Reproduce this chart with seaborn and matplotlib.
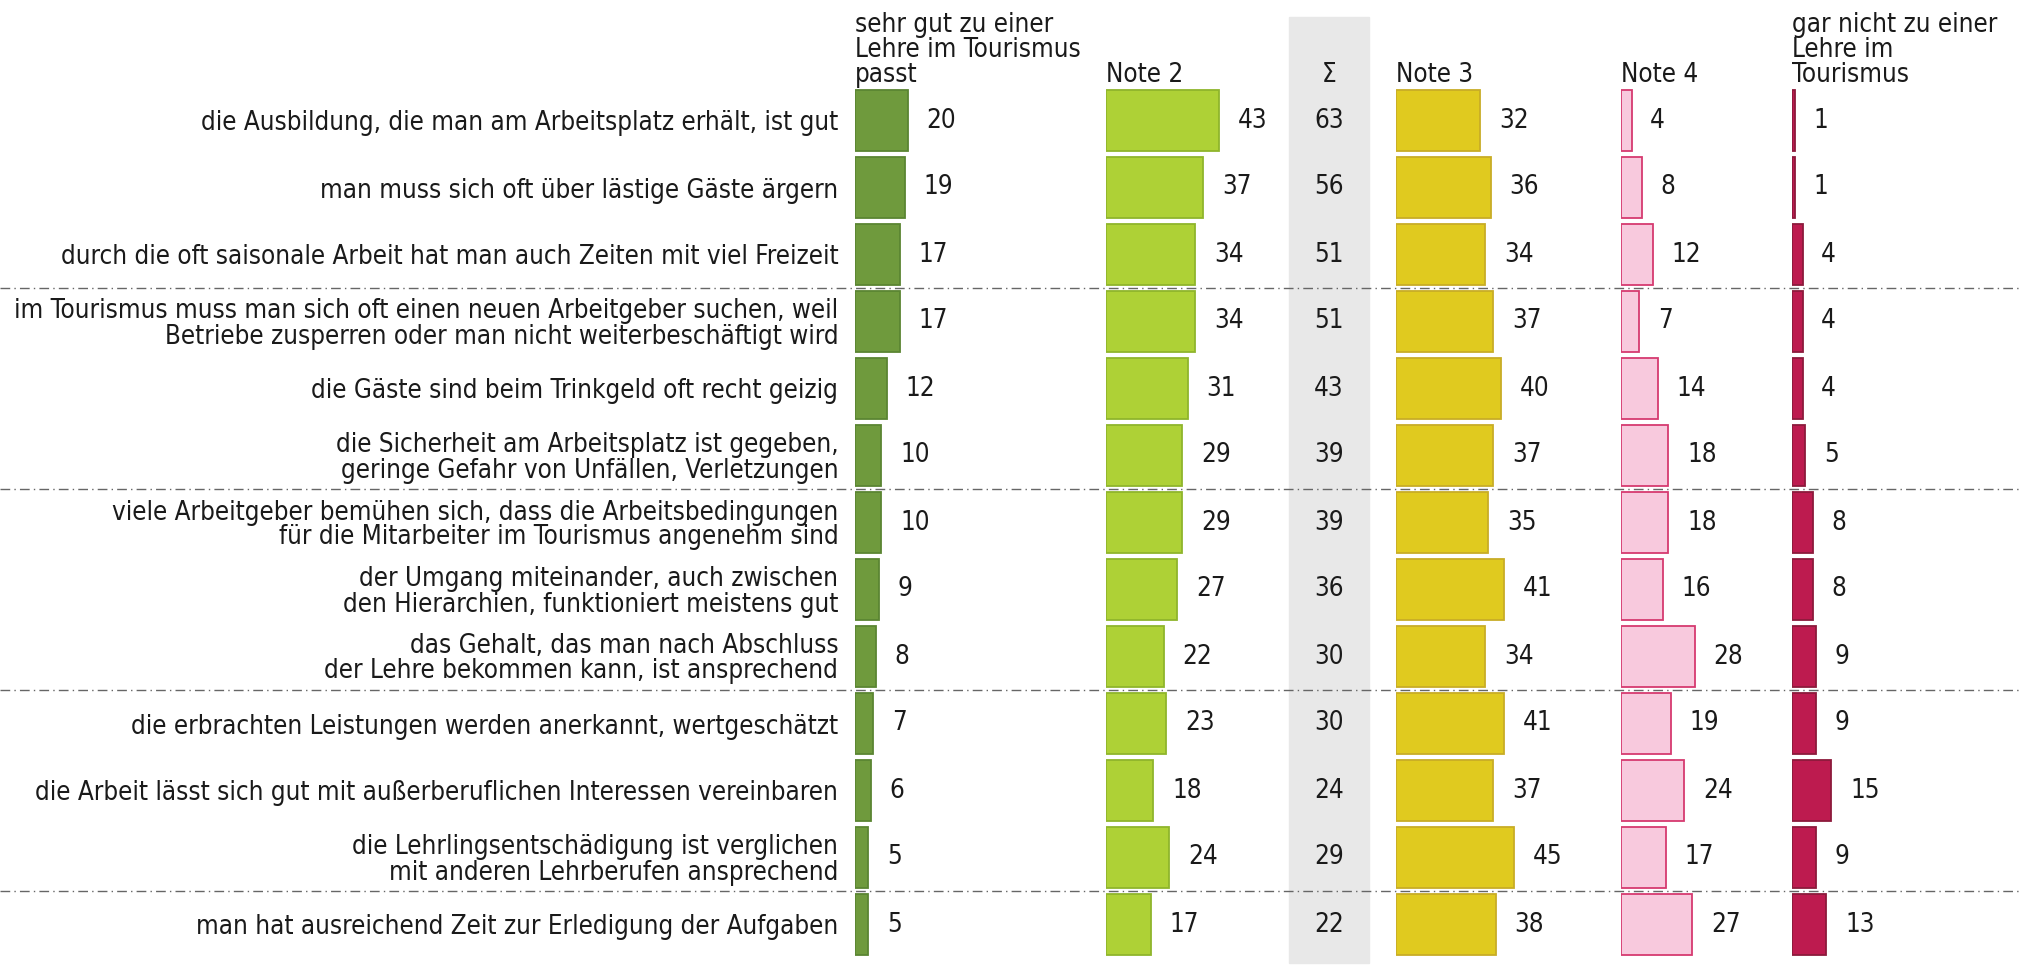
import matplotlib.pyplot as plt
from matplotlib import font_manager as fm
from matplotlib.patches import Rectangle
import seaborn as sns
import pandas as pd

statements = [
    "die Ausbildung, die man am Arbeitsplatz erhält, ist gut",
    "man muss sich oft über lästige Gäste ärgern",
    "durch die oft saisonale Arbeit hat man auch Zeiten mit viel Freizeit",
    "im Tourismus muss man sich oft einen neuen Arbeitgeber suchen, weil\nBetriebe zusperren oder man nicht weiterbeschäftigt wird",
    "die Gäste sind beim Trinkgeld oft recht geizig",
    "die Sicherheit am Arbeitsplatz ist gegeben,\ngeringe Gefahr von Unfällen, Verletzungen",
    "viele Arbeitgeber bemühen sich, dass die Arbeitsbedingungen\nfür die Mitarbeiter im Tourismus angenehm sind",
    "der Umgang miteinander, auch zwischen\nden Hierarchien, funktioniert meistens gut",
    "das Gehalt, das man nach Abschluss\nder Lehre bekommen kann, ist ansprechend",
    "die erbrachten Leistungen werden anerkannt, wertgeschätzt",
    "die Arbeit lässt sich gut mit außerberuflichen Interessen vereinbaren",
    "die Lehrlingsentschädigung ist verglichen\nmit anderen Lehrberufen ansprechend",
    "man hat ausreichend Zeit zur Erledigung der Aufgaben",
]
note1 = [20, 19, 17, 17, 12, 10, 10, 9, 8, 7, 6, 5, 5]
note2 = [43, 37, 34, 34, 31, 29, 29, 27, 22, 23, 18, 24, 17]
top2 = [63, 56, 51, 51, 43, 39, 39, 36, 30, 30, 24, 29, 22]
note3 = [32, 36, 34, 37, 40, 37, 35, 41, 34, 41, 37, 45, 38]
note4 = [4, 8, 12, 7, 14, 18, 18, 16, 28, 19, 24, 17, 27]
note5 = [1, 1, 4, 4, 4, 5, 8, 8, 9, 9, 15, 9, 13]

headers = ["sehr gut zu einer\nLehre im Tourismus\npasst", "Note 2",
           "Note 3", "Note 4", "gar nicht zu einer\nLehre im\nTourismus"]
separators = [2.5, 5.5, 8.5, 11.5]

sns.set_theme(style="white")

# a narrow face is closest to the original; use what is installed
has_cond = any(f.name == "DejaVu Sans" and "Condensed" in f.fname
               for f in fm.fontManager.ttflist)
if has_cond:
    plt.rcParams['font.family'] = ['DejaVu Sans']
    plt.rcParams['font.stretch'] = 'condensed'
    FS = 18.6
else:
    plt.rcParams['font.family'] = ['Liberation Sans', 'DejaVu Sans']
    FS = 18
plt.rcParams['text.color'] = '#1a1a1a'
plt.rcParams['ytick.color'] = '#1a1a1a'

W, H = 2022, 965
fig = plt.figure(figsize=(W / 100, H / 100), dpi=100)

n = len(statements)
top_px, row_px = 87, 67
ax_bottom = 1 - (top_px + n * row_px) / H
ax_h = n * row_px / H
px_per_unit = 2.63
col_w = 220

# grey band behind the sum column
fig.add_artist(Rectangle((1289 / W, 1 - 963 / H), 80 / W, (963 - 17) / H,
                         transform=fig.transFigure, color="#e8e8e8", zorder=-1))

# dash-dot separators across the full width
bg = fig.add_axes([0, ax_bottom, 1, ax_h])
bg.set_xlim(0, 1)
bg.set_ylim(n - 0.5, -0.5)
for y in separators:
    bg.axhline(y, color="#666666", lw=1, ls=(0, (7, 3, 1, 3)))
bg.axis("off")

columns = [
    (note1, 855, "#6f9a3d", "#5a8532", headers[0]),
    (note2, 1106, "#aed136", "#8fb52c", headers[1]),
    (note3, 1396, "#e0ca1f", "#c8ad26", headers[2]),
    (note4, 1621, "#f8c9dd", "#d63a70", headers[3]),
    (note5, 1792, "#bd1b4f", "#8c1a3c", headers[4]),
]

for k, (vals, left, fill, edge, head) in enumerate(columns):
    df = pd.DataFrame({"statement": statements, "value": vals})
    ax = fig.add_axes([left / W, ax_bottom, col_w / W, ax_h])
    sns.barplot(data=df, x="value", y="statement", orient="h", color=fill,
                edgecolor=edge, linewidth=1.3, width=0.91, saturation=1, ax=ax)
    ax.set_xlim(0, col_w / px_per_unit)
    ax.set_ylim(n - 0.5, -0.5)
    for i, v in enumerate(vals):
        ax.annotate(str(v), (v, i), xytext=(13.5, 0), textcoords="offset points",
                    va="center", ha="left", fontsize=FS)
    ax.set_xlabel("")
    ax.set_ylabel("")
    ax.set_xticks([])
    sns.despine(ax=ax, left=True, bottom=True)
    ax.patch.set_visible(False)
    if k == 0:
        ax.tick_params(axis="y", length=0, pad=12, labelsize=FS)
        for t in ax.get_yticklabels():
            t.set_linespacing(0.95)
    else:
        ax.set_yticks([])
    fig.text(left / W, 1 - 88 / H, head, ha="left", va="bottom",
             fontsize=FS, linespacing=0.95)

# sum column
sax = fig.add_axes([1289 / W, ax_bottom, 80 / W, ax_h])
sax.set_xlim(0, 1)
sax.set_ylim(n - 0.5, -0.5)
for i, v in enumerate(top2):
    sax.text(0.5, i, str(v), ha="center", va="center", fontsize=FS)
sax.axis("off")
fig.text(1329 / W, 1 - 88 / H, "Σ", ha="center", va="bottom", fontsize=FS)

fig.savefig("out.png", dpi=100)
